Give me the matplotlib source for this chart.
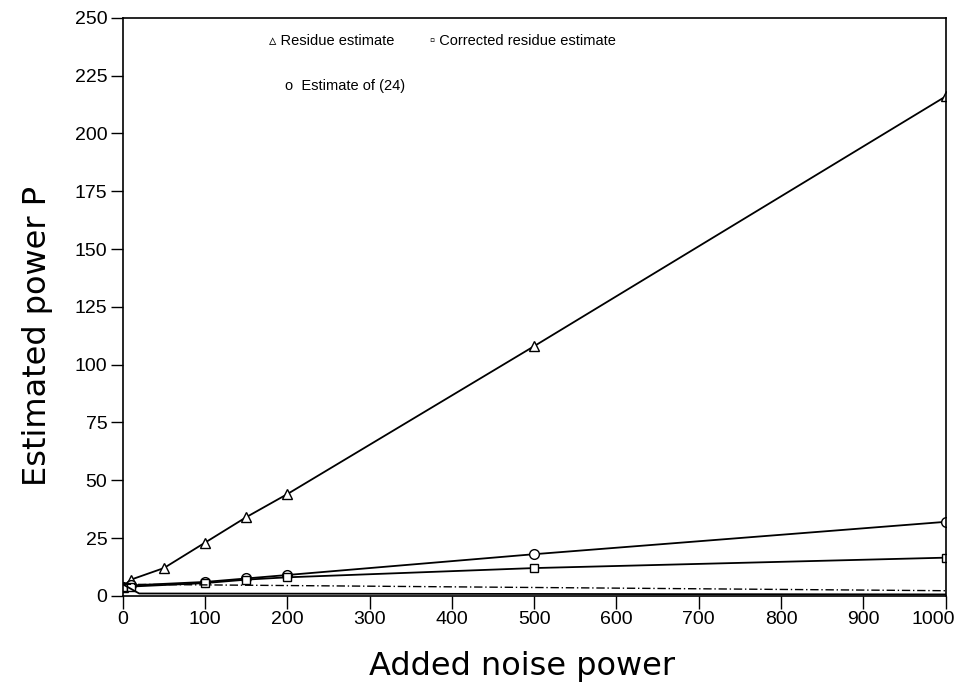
import matplotlib
matplotlib.use("Agg")
import matplotlib.pyplot as plt
import matplotlib.transforms as mtransforms

# ---- data ----
x_res = [0, 10, 50, 100, 150, 200, 500, 1000]
y_res = [4, 7, 12, 23, 34, 44, 108, 216]

x_est = [0, 10, 100, 150, 200, 500, 1000]
y_est = [4, 4.5, 6, 7.5, 9, 18, 32]

x_cor = [0, 10, 100, 150, 200, 500, 1000]
y_cor = [4, 4, 5.5, 7, 8, 12, 16.5]

x_dash = [0, 1000]
y_dash = [5, 2.2]

x_base = [0, 20, 1000]
y_base = [5, 1, 0.6]

xticks = [0, 100, 200, 300, 400, 500, 600, 700, 800, 900, 1000]
yticks = [0, 25, 50, 75, 100, 125, 150, 175, 200, 225, 250]

tick_font = ['Liberation Sans', 'DejaVu Sans']
lab_font = ['DejaVu Sans']
key_font = ['Liberation Sans', 'DejaVu Sans']

fig = plt.figure(figsize=(9.59, 6.88), dpi=100)
ax = fig.add_axes([0.128, 0.134, 0.858, 0.840])

lw = 1.3
ax.plot(x_res, y_res, color='black', lw=lw, marker='^', mfc='white', mec='black', ms=7, mew=1.0)
ax.plot(x_est, y_est, color='black', lw=lw, marker='o', mfc='white', mec='black', ms=7, mew=1.0)
ax.plot(x_cor, y_cor, color='black', lw=lw, marker='s', mfc='white', mec='black', ms=6, mew=1.0)
ax.plot(x_dash, y_dash, color='black', lw=1.0, ls=(0, (6, 2, 1, 2)))
ax.plot(x_base, y_base, color='black', lw=lw)

ax.set_xlim(0, 1000)
ax.set_ylim(0, 250)
ax.set_xticks(xticks)
ax.set_yticks(yticks)
ax.set_xticklabels([str(v) for v in xticks], family=tick_font, fontsize=14)
ax.set_yticklabels([str(v) for v in yticks], family=tick_font, fontsize=14)
ax.tick_params(direction='out', length=9, width=1.0, pad=2)
for s in ax.spines.values():
    s.set_linewidth(1.2)

# keep the last x tick label inside the picture
last = ax.get_xticklabels()[-1]
last.set_transform(last.get_transform() + mtransforms.ScaledTranslation(-12 / 100, 0, fig.dpi_scale_trans))

ax.set_xlabel('Added noise power', family=lab_font, fontsize=23)
ax.set_ylabel('Estimated power P', family=lab_font, fontsize=23)
ax.xaxis.set_label_coords(0.485, -0.095)
ax.yaxis.set_label_coords(-0.085, 0.45)

# in-plot key
ax.text(0.178, 0.972, '\u25b5 Residue estimate', transform=ax.transAxes, fontsize=10.5,
        family=key_font, va='top', ha='left')
ax.text(0.373, 0.972, '\u25ab Corrected residue estimate', transform=ax.transAxes, fontsize=10.5,
        family=key_font, va='top', ha='left')
ax.text(0.197, 0.895, 'o  Estimate of (24)', transform=ax.transAxes, fontsize=10.5,
        family=key_font, va='top', ha='left')

fig.savefig('out.png', dpi=100)
